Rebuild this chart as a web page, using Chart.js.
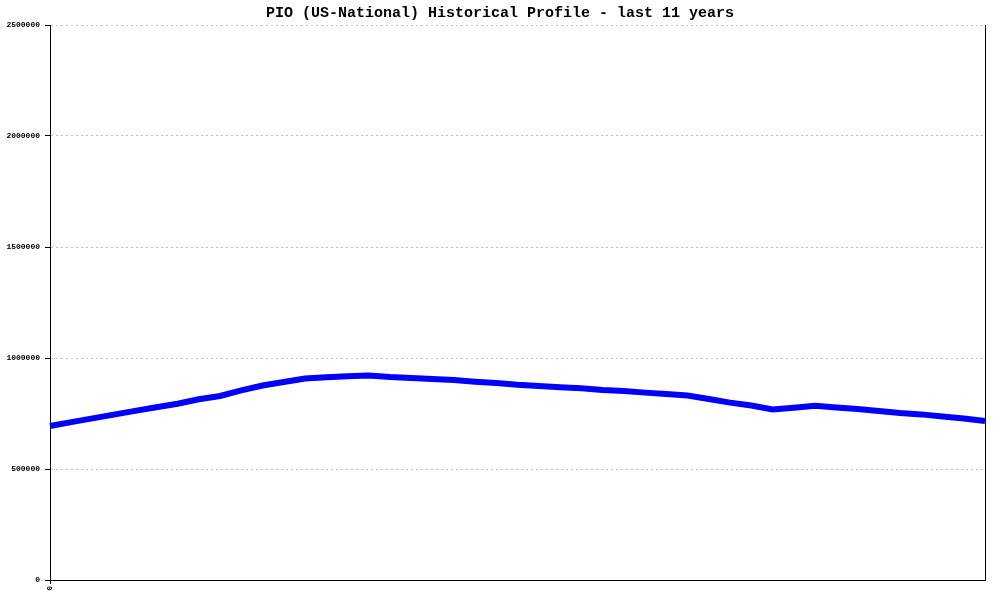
<!DOCTYPE html>
<html>
<head>
<meta charset="utf-8">
<script src="https://cdn.jsdelivr.net/npm/chart.js@4/dist/chart.umd.min.js"></script>
<style>
  html, body { margin: 0; padding: 0; background: #ffffff; }
  #wrap { width: 1000px; height: 600px; position: relative; }
</style>
</head>
<body>
<div id="wrap"><canvas id="c" width="1000" height="600"></canvas></div>
<script>
const chartTitle = "PIO (US-National) Historical Profile - last 11 years";

// quarterly samples over 11 years (45 points); only the first label is shown
const categories = ["0","","","","","","","","","","","","","","","","","","","","","","","","","","","","","","","","","","","","","","","","","","","",""];

const values = [
  694000, 711000, 728000, 745000, 762000, 778000, 794000, 814000, 829000,
  854000, 876000, 892000, 908000, 913000, 918000, 921000, 914000, 910000,
  905000, 901000, 893000, 887000, 879000, 874000, 868000, 864000, 856000,
  851000, 844000, 838000, 831000, 815000, 799000, 786000, 768000, 776000,
  785000, 777000, 770000, 761000, 752000, 746000, 736000, 727000, 716000
];

const yTicks = [0, 500000, 1000000, 1500000, 2000000, 2500000];

const monoFont = "'Liberation Mono', 'DejaVu Sans Mono', monospace";

new Chart(document.getElementById('c'), {
  type: 'line',
  data: {
    labels: categories,
    datasets: [{
      data: values,
      yAxisID: 'y',
      borderColor: '#0000ff',
      backgroundColor: '#0000ff',
      borderWidth: 6,
      pointRadius: 0,
      tension: 0,
      fill: false
    }]
  },
  options: {
    responsive: false,
    animation: false,
    layout: { padding: 0 },
    plugins: {
      legend: { display: false },
      tooltip: { enabled: false },
      title: {
        display: true,
        text: chartTitle,
        color: '#000000',
        font: { family: monoFont, size: 15, weight: 'bold', lineHeight: 1.2 },
        padding: { top: 4, bottom: 3 }
      }
    },
    scales: {
      x: {
        offset: false,
        afterFit(scale) { scale.height = 20; },
        grid: {
          display: true,
          drawOnChartArea: false,
          drawTicks: true,
          tickLength: 4,
          tickColor: '#000000'
        },
        border: { display: true, color: '#000000', width: 1 },
        ticks: {
          autoSkip: false,
          minRotation: 90,
          maxRotation: 90,
          padding: 2,
          color: '#000000',
          font: { family: monoFont, size: 8, weight: 'bold' },
          callback(value, index) {
            const l = categories[index];
            return l === "" ? null : l;
          }
        }
      },
      y: {
        position: 'left',
        min: yTicks[0],
        max: yTicks[yTicks.length - 1],
        afterFit(scale) { scale.width = 50; },
        afterBuildTicks(scale) { scale.ticks = yTicks.map(v => ({ value: v })); },
        grid: {
          display: true,
          color: '#bdbdbd',
          lineWidth: 1,
          tickBorderDash: [],
          tickLength: 5,
          tickColor: '#000000'
        },
        border: { display: true, color: '#000000', width: 1, dash: [2, 3] },
        ticks: {
          padding: 5,
          color: '#000000',
          font: { family: monoFont, size: 8, weight: 'bold' },
          callback(value) { return String(value); }
        }
      },
      yRight: {
        type: 'linear',
        position: 'right',
        display: true,
        afterFit(scale) { scale.width = 15; },
        grid: { display: false, drawTicks: false },
        border: { display: true, color: '#000000', width: 1 },
        ticks: { display: false }
      }
    }
  }
});
</script>
</body>
</html>
